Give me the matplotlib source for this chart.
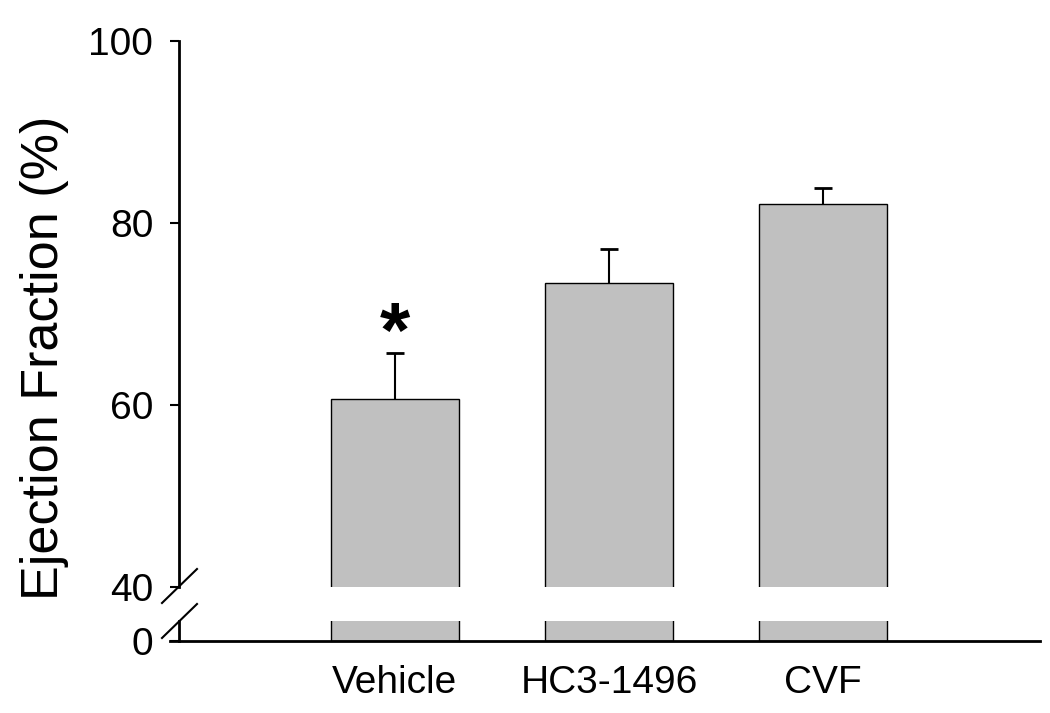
import numpy as np
import matplotlib as mpl
mpl.use('Agg')
import matplotlib.pyplot as plt
from matplotlib.lines import Line2D

plt.rcParams['font.family'] = ['Liberation Sans', 'DejaVu Sans']

groups = ['Vehicle', 'HC3-1496', 'CVF']
ef_mean = [60.7, 73.4, 82.1]
ef_sem = [5.0, 3.7, 1.7]
sig_mark = ['*', '', '']

W, H = 1050, 713
TickSize = 28
BarColor = '#c0c0c0'

fig = plt.figure(figsize=(W / 100, H / 100), dpi=100)
# upper part (40-100) and lower stub (0) of the broken axis
ax = fig.add_axes([170 / W, (H - 587) / H, 870 / W, 546 / H])
axl = fig.add_axes([170 / W, (H - 641) / H, 870 / W, 20 / H])

x = np.arange(len(groups))
for a in (ax, axl):
    a.bar(x, ef_mean, width=0.6, color=BarColor, edgecolor='black', linewidth=1.0)
    a.set_xlim(-1.051, 3.014)
    a.spines['top'].set_visible(False)
    a.spines['right'].set_visible(False)
    a.spines['left'].set_position(('axes', 9 / 870))
    a.spines['left'].set_linewidth(2)
    a.tick_params(axis='y', direction='out', length=6.5, width=1.5, pad=12, labelsize=TickSize)

# upper error only
_, caps, _ = ax.errorbar(x, ef_mean, yerr=[np.zeros(len(ef_sem)), ef_sem], fmt='none',
                         ecolor='black', elinewidth=1.5, capsize=6.5, capthick=2)
caps[0].set_visible(False)
ax.set_ylim(40, 100)
ax.set_yticks([40, 60, 80, 100])
ax.spines['bottom'].set_visible(False)
ax.set_xticks([])
for xi, m, v, e in zip(x, sig_mark, ef_mean, ef_sem):
    if m:
        ax.text(xi, v + e + 1.8, m, ha='center', va='center', fontsize=56, fontweight='bold')

axl.set_ylim(0, 2.2)
axl.set_yticks([0])
axl.spines['bottom'].set_linewidth(2)
axl.set_xticks(x)
axl.set_xticklabels(groups, fontsize=TickSize)
axl.tick_params(axis='x', length=0, pad=17)

# break marks
for y0, y1 in ((603, 569), (638, 604)):
    fig.add_artist(Line2D([162 / W, 197 / W], [(H - y0) / H, (H - y1) / H],
                          transform=fig.transFigure, color='black', linewidth=1.5))

fig.text(45 / W, (H - 358) / H, 'Ejection Fraction (%)', rotation=90,
         ha='center', va='center', fontsize=37.5)

fig.savefig('out.png', dpi=100)
